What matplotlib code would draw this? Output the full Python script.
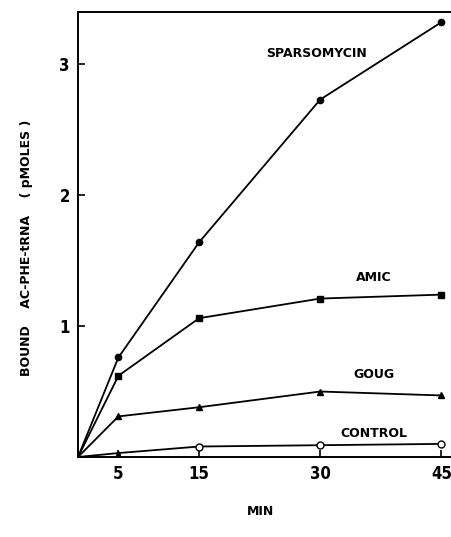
import matplotlib
matplotlib.use("Agg")
import matplotlib.pyplot as plt

time_min = [0, 5, 15, 30, 45]
sparsomycin = [0.0, 0.76, 1.64, 2.73, 3.32]
amic = [0.0, 0.62, 1.06, 1.21, 1.24]
goug = [0.0, 0.31, 0.38, 0.50, 0.47]
control = [0.0, 0.03, 0.08, 0.09, 0.10]

x_ticks = [5, 15, 30, 45]
y_ticks = [1, 2, 3]

plt.rcParams['font.family'] = ['DejaVu Sans']

fig = plt.figure(figsize=(4.51, 5.37), dpi=100)
ax = fig.add_axes([0.173, 0.149, 0.827, 0.829])

lw = 1.3
ax.plot(time_min, sparsomycin, color='black', lw=lw, marker='o', ms=4.5, markevery=[1, 2, 3, 4])
ax.plot(time_min, amic, color='black', lw=lw, marker='s', ms=4.2, markevery=[1, 2, 3, 4])
ax.plot(time_min, goug, color='black', lw=lw, marker='^', ms=4, markevery=[1, 2, 3, 4])
ax.plot(time_min, control, color='black', lw=lw)
ax.plot(time_min[2:], control[2:], ls='none', marker='o', ms=5, mfc='white', mec='black', mew=1)
ax.plot(time_min[1:2], control[1:2], ls='none', marker='^', ms=3, color='black')

ax.set_xlim(0, 46.2)
ax.set_ylim(0, 3.40)
ax.set_xticks(x_ticks)
ax.set_yticks(y_ticks)
ax.tick_params(direction='in', length=5, width=1.2, labelsize=12, pad=6)
for lab in ax.get_xticklabels() + ax.get_yticklabels():
    lab.set_fontweight('bold')
    lab.set_fontstretch('condensed')

ax.spines['right'].set_visible(False)
for s in ['left', 'bottom', 'top']:
    ax.spines[s].set_linewidth(1.4)

lab_kw = dict(fontweight='bold', fontsize=9, ha='center', va='center')
ax.text(29.6, 3.08, 'SPARSOMYCIN', **lab_kw)
ax.text(36.6, 1.37, 'AMIC', **lab_kw)
ax.text(36.6, 0.63, 'GOUG', **lab_kw)
ax.text(36.7, 0.18, 'CONTROL', **lab_kw)

fig.text(0.058, 0.538, 'BOUND    AC-PHE-tRNA    ( pMOLES )', rotation=90,
         ha='center', va='center', fontsize=9, fontweight='bold')
fig.text(0.578, 0.047, 'MIN', ha='center', va='center', fontsize=9,
         fontweight='bold')

fig.savefig('out.png', dpi=100)
